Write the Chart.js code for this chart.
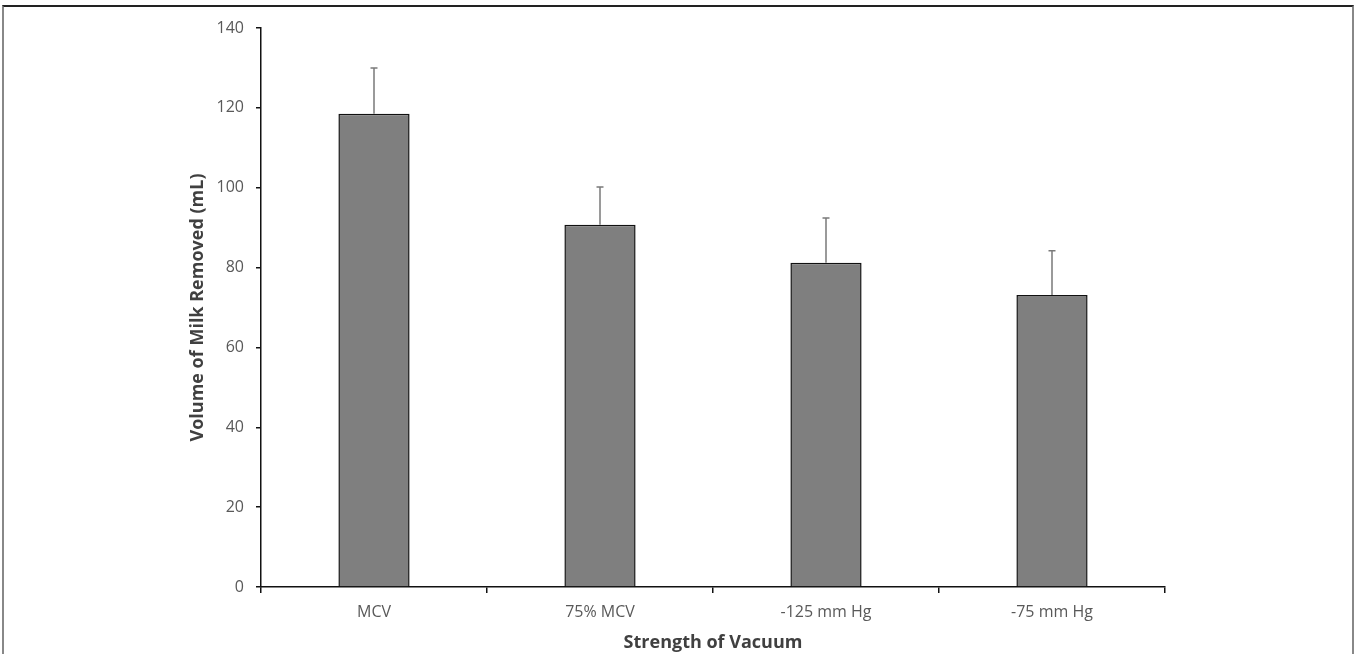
<!DOCTYPE html>
<html>
<head>
<meta charset="utf-8">
<script src="https://cdn.jsdelivr.net/npm/chart.js@4/dist/chart.umd.min.js"></script>
<style>
    html, body { margin: 0; padding: 0; background: #fff; }
    #wrap { position: relative; width: 1355px; height: 654px; overflow: hidden; }
    #frame { position: absolute; left: 2px; top: 5px; width: 1348px; height: 660px;
             border-top: 2px solid #222; border-left: 2px solid #888; border-right: 2px solid #888; }
    canvas { position: absolute; left: 0; top: 0; }
</style>
</head>
<body>
<div id="wrap">
    <div id="frame"></div>
    <canvas id="chart" width="1355" height="654"></canvas>
</div>
<script>
"use strict";

// values
var categories = ["MCV", "75% MCV", "-125 mm Hg", "-75 mm Hg"];
var milkVolumes = [118.5, 90.7, 81.2, 73.1];
var upperErrors = [11.5, 9.5, 11.2, 11.1];
var yTicks = [0, 20, 40, 60, 80, 100, 120, 140];

var fontFamily = "'Open Sans', sans-serif";

// draws the upper error whisker on each bar
var errorBars = {
    id: "errorBars",
    afterDatasetsDraw: function (chart) {
        var ctx = chart.ctx;
        var yScale = chart.scales.y;
        var meta = chart.getDatasetMeta(0);
        ctx.save();
        ctx.strokeStyle = "#7a7a7a";
        ctx.lineWidth = 1.5;
        meta.data.forEach(function (bar, i) {
            var top = yScale.getPixelForValue(milkVolumes[i] + upperErrors[i]);
            var base = yScale.getPixelForValue(milkVolumes[i]);
            ctx.beginPath();
            ctx.moveTo(bar.x, base);
            ctx.lineTo(bar.x, top);
            ctx.moveTo(bar.x - 3.5, top);
            ctx.lineTo(bar.x + 3.5, top);
            ctx.stroke();
        });
        ctx.restore();
    }
};

new Chart(document.getElementById("chart"), {
    type: "bar",
    data: {
        labels: categories,
        datasets: [{
            data: milkVolumes,
            backgroundColor: "#7f7f7f",
            borderColor: "#111",
            borderWidth: 1.5,
            barPercentage: 0.315,
            categoryPercentage: 1
        }]
    },
    plugins: [errorBars],
    options: {
        responsive: false,
        animation: false,
        layout: { padding: { top: 28, right: 190, left: 187, bottom: 0 } },
        plugins: {
            legend: { display: false },
            tooltip: { enabled: false }
        },
        scales: {
            x: {
                afterFit: function (scale) { scale.height = 654 - 587; },
                grid: { offset: true, drawOnChartArea: false, tickLength: 6, color: "#111", lineWidth: 1.5 },
                border: { color: "#111", width: 1.5 },
                ticks: { color: "#595959", font: { family: fontFamily, size: 16 }, padding: 10 },
                title: {
                    display: true,
                    text: "Strength of Vacuum",
                    color: "#404040",
                    font: { family: fontFamily, size: 18, weight: "bold" },
                    padding: { top: 3, bottom: 0 }
                }
            },
            y: {
                min: 0,
                max: 140,
                afterFit: function (scale) { scale.width = 261 - 187; },
                afterBuildTicks: function (scale) {
                    scale.ticks = yTicks.map(function (v) { return { value: v }; });
                },
                grid: { drawOnChartArea: false, tickLength: 5, color: "#111", lineWidth: 1.5 },
                border: { color: "#111", width: 1.5 },
                ticks: { color: "#595959", font: { family: fontFamily, size: 16 }, padding: 12 },
                title: {
                    display: true,
                    text: "Volume of Milk Removed (mL)",
                    color: "#404040",
                    font: { family: fontFamily, size: 18, weight: "bold" },
                    padding: { top: 0, bottom: 0 }
                }
            }
        }
    }
});
</script>
</body>
</html>
